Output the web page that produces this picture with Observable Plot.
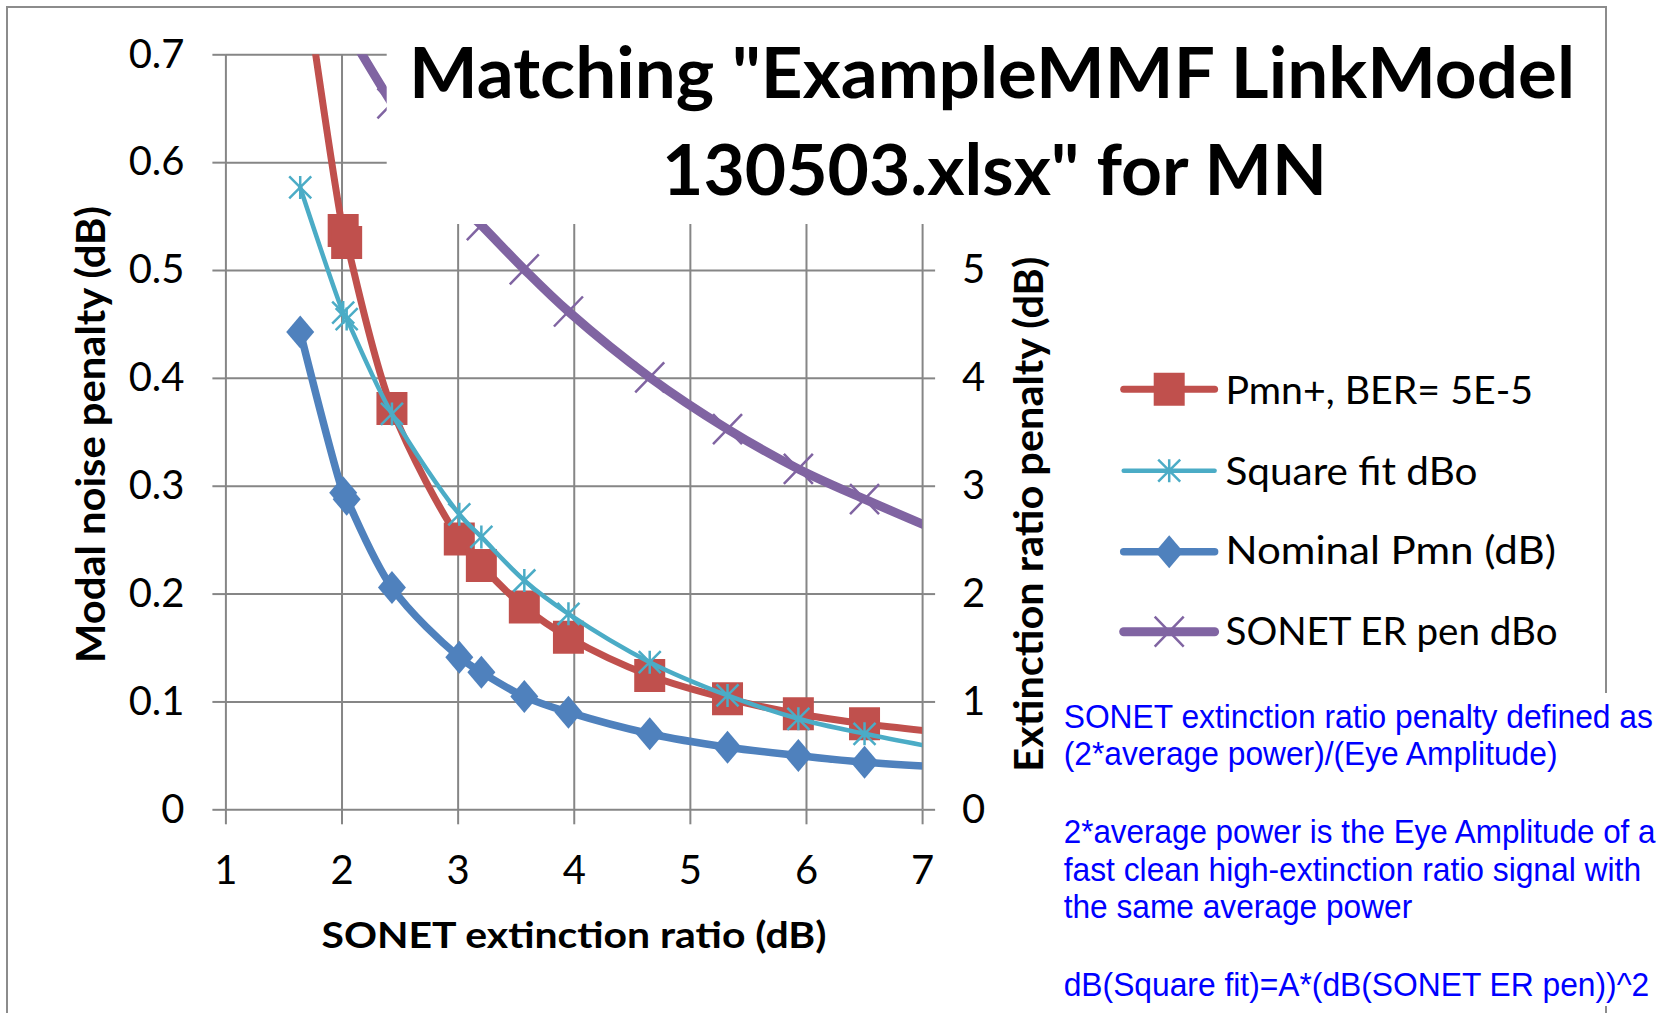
<!DOCTYPE html>
<html>
<head>
<meta charset="utf-8">
<script src="https://cdn.jsdelivr.net/npm/d3@7"></script>
<script src="https://cdn.jsdelivr.net/npm/@observablehq/plot@0.6"></script>
<style>
html, body { margin: 0; padding: 0; background: #fff; }
#wrap { position: relative; width: 1671px; height: 1013px; overflow: hidden; background: #fff; }
#wrap > svg { position: absolute; left: 0; top: 0; }
</style>
</head>
<body>
<div id="wrap"></div>
<script>
// ---- data ----
const erDb        = [1.64, 2.01, 2.04, 2.43, 3.01, 3.20, 3.57, 3.95, 4.65, 5.32, 5.93, 6.50, 7.50];
const pmnPlus     = [0.800, 0.537, 0.526, 0.372, 0.251, 0.2265, 0.188, 0.160, 0.1245, 0.103, 0.089, 0.0797, 0.068];
const squareFit   = [0.577, 0.461, 0.455, 0.367, 0.274, 0.253, 0.2126, 0.1817, 0.1369, 0.106, 0.0844, 0.0705, 0.050];
const nominalPmn  = [0.443, 0.294, 0.288, 0.206, 0.1415, 0.1276, 0.105, 0.0905, 0.0705, 0.058, 0.0503, 0.0441, 0.038];
const sonetErPen  = [8.15, 7.29, 7.24, 6.55, 5.62, 5.42, 5.01, 4.62, 4.01, 3.53, 3.16, 2.88, 2.42];

const xTicks = [1, 2, 3, 4, 5, 6, 7];
const yTicks = [0, 0.1, 0.2, 0.3, 0.4, 0.5, 0.6, 0.7];
const rightTicks = [0, 1, 2, 3, 4, 5];

const seriesNames = ["Pmn+, BER= 5E-5", "Square fit dBo", "Nominal Pmn (dB)", "SONET ER pen dBo"];
const seriesColors = ["#C0504D", "#4BACC6", "#4F81BD", "#8064A2"];

const titleLines = ["Matching \"ExampleMMF LinkModel", "130503.xlsx\" for MN"];
const xTitle = "SONET extinction ratio (dB)";
const yTitle = "Modal noise penalty (dB)";
const y2Title = "Extinction ratio penalty (dB)";
const noteLines = [
  "SONET extinction ratio penalty defined as",
  "(2*average power)/(Eye Amplitude)",
  "2*average power is the Eye Amplitude of a",
  "fast clean high-extinction ratio signal with",
  "the same average power",
  "dB(Square fit)=A*(dB(SONET ER pen))^2"
];

// table built from the arrays; right-axis series mapped onto the left scale (÷10)
const rows = erDb.map((x, i) => ({x, pmn: pmnPlus[i], fit: squareFit[i], nom: nominalPmn[i], er: sonetErPen[i] / 10}));

// ---- marker symbols ----
const squareSym  = {draw(c) { c.moveTo(-15.5, -16.5); c.lineTo(15.5, -16.5); c.lineTo(15.5, 16.5); c.lineTo(-15.5, 16.5); c.closePath(); }};
const diamondSym = {draw(c) { c.moveTo(0, -16.5); c.lineTo(14, 0); c.lineTo(0, 16.5); c.lineTo(-14, 0); c.closePath(); }};
const starSym    = {draw(c) { c.moveTo(0, -11.5); c.lineTo(0, 11.5); c.moveTo(-11, -11); c.lineTo(11, 11); c.moveTo(-11, 11); c.lineTo(11, -11); }};
const crossSym   = {draw(c) { c.moveTo(-14.5, -15); c.lineTo(14.5, 15); c.moveTo(-14.5, 15); c.lineTo(14.5, -15); }};

const W = 1671, H = 1013;
const fL = 225.4, fR = 922.1, fT = 54.3, fB = 809.3;
const gridColor = "#868686";
const lw = [7, 4.5, 7.5, 9];

const plot = Plot.plot({
  width: W, height: H,
  marginLeft: fL, marginRight: W - fR, marginTop: fT, marginBottom: H - fB,
  style: {background: "transparent", fontFamily: "Lato, 'Open Sans', sans-serif", fontSize: "40px", color: "#000", overflow: "visible"},
  x: {domain: [1, 7]},
  y: {domain: [0, 0.7]},
  marks: [
    Plot.gridX(xTicks, {stroke: gridColor, strokeOpacity: 1, strokeWidth: 2}),
    Plot.gridY(yTicks, {stroke: gridColor, strokeOpacity: 1, strokeWidth: 2}),
    Plot.axisX({ticks: xTicks, tickSize: 15, tickPadding: 30.6, stroke: gridColor, strokeWidth: 2, label: null, tickFormat: d => String(d)}),
    Plot.axisY({ticks: yTicks, tickSize: 13, tickPadding: 28.4, stroke: gridColor, strokeWidth: 2, label: null, tickFormat: d => String(d)}),
    Plot.axisY({anchor: "right", ticks: rightTicks.map(v => v / 10), tickSize: 12, tickPadding: 27.4, stroke: gridColor, strokeWidth: 2, label: null, tickFormat: d => String(Math.round(d * 10))}),
    // red
    Plot.line(rows, {x: "x", y: "pmn", stroke: seriesColors[0], strokeWidth: lw[0], curve: "catmull-rom", clip: true}),
    Plot.dot(rows, {x: "x", y: "pmn", symbol: squareSym, fill: seriesColors[0], stroke: "none", clip: true}),
    // cyan
    Plot.line(rows, {x: "x", y: "fit", stroke: seriesColors[1], strokeWidth: lw[1], curve: "catmull-rom", clip: true}),
    Plot.dot(rows, {x: "x", y: "fit", symbol: starSym, fill: "none", stroke: seriesColors[1], strokeWidth: 2.5, clip: true}),
    // blue
    Plot.line(rows, {x: "x", y: "nom", stroke: seriesColors[2], strokeWidth: lw[2], curve: "catmull-rom", clip: true}),
    Plot.dot(rows, {x: "x", y: "nom", symbol: diamondSym, fill: seriesColors[2], stroke: "none", clip: true}),
    // purple (right axis)
    Plot.line(rows, {x: "x", y: "er", stroke: seriesColors[3], strokeWidth: lw[3], curve: "catmull-rom", clip: true}),
    Plot.dot(rows, {x: "x", y: "er", symbol: crossSym, fill: "none", stroke: seriesColors[3], strokeWidth: 2.5, clip: true})
  ]
});

const wrap = document.getElementById("wrap");
const NS = "http://www.w3.org/2000/svg";
function el(tag, attrs, parent) {
  const e = document.createElementNS(NS, tag);
  for (const k in attrs) e.setAttribute(k, attrs[k]);
  if (parent) parent.appendChild(e);
  return e;
}
function txt(parent, str, attrs) { const t = el("text", attrs, parent); t.textContent = str; return t; }

// background layer (outer chart border)
const under = el("svg", {width: W, height: H});
el("rect", {x: 7, y: 7, width: 1599, height: 1200, fill: "none", stroke: "#8c8c8c", "stroke-width": 2}, under);
wrap.appendChild(under);
wrap.appendChild(plot);

// overlay layer
const over = el("svg", {width: W, height: H});
wrap.appendChild(over);

// title box (covers the top of the plot area)
el("rect", {x: 386.7, y: 9, width: 1212, height: 215, fill: "#fff"}, over);
const bold = "Lato, 'Open Sans', sans-serif";
txt(over, titleLines[0], {x: 992, y: 98.3, "text-anchor": "middle", "font-family": bold, "font-weight": 700, "font-size": 70, textLength: 1166, lengthAdjust: "spacingAndGlyphs"});
txt(over, titleLines[1], {x: 994.5, y: 195, "text-anchor": "middle", "font-family": bold, "font-weight": 700, "font-size": 70, textLength: 665, lengthAdjust: "spacingAndGlyphs"});

// axis titles
txt(over, xTitle, {x: 574, y: 948, "text-anchor": "middle", "font-family": bold, "font-weight": 700, "font-size": 36, textLength: 505, lengthAdjust: "spacingAndGlyphs"});
txt(over, yTitle, {transform: "translate(104.6,434.5) rotate(-90)", "text-anchor": "middle", "font-family": bold, "font-weight": 700, "font-size": 40, textLength: 457, lengthAdjust: "spacingAndGlyphs"});
txt(over, y2Title, {transform: "translate(1042.6,514.2) rotate(-90)", "text-anchor": "middle", "font-family": bold, "font-weight": 700, "font-size": 41, textLength: 515, lengthAdjust: "spacingAndGlyphs"});

// legend
const legSyms = [squareSym, starSym, diamondSym, crossSym];
const legLineY = [389.3, 470.7, 551.7, 631.7];
const legBase = [404, 485, 564.3, 645];
const legW = [307.5, 252, 330.5, 332];
seriesNames.forEach((name, i) => {
  el("line", {x1: 1123.7, x2: 1214.6, y1: legLineY[i], y2: legLineY[i], stroke: seriesColors[i], "stroke-width": lw[i], "stroke-linecap": "round"}, over);
  const p = d3.path();
  legSyms[i].draw(p);
  const filled = (i === 0 || i === 2);
  el("path", {d: p.toString(), transform: `translate(1169.2,${legLineY[i]})`, fill: filled ? seriesColors[i] : "none", stroke: filled ? "none" : seriesColors[i], "stroke-width": 2.5}, over);
  txt(over, name, {x: 1225.5, y: legBase[i], "font-family": "Lato, 'Open Sans', sans-serif", "font-size": 38, fill: "#000", textLength: legW[i], lengthAdjust: "spacingAndGlyphs"});
});

// note box (text squeezed horizontally by a transform so that its box matches the reference)
el("rect", {x: 1058, y: 693, width: 613, height: 313, fill: "#fff"}, over);
const noteBase = [728.3, 764.5, 842.7, 880.5, 918.3, 996];
const noteW = [589.5, 494, 592, 577.7, 348.6, 586];
noteLines.forEach((s, i) => {
  const g = el("g", {}, over);
  const t = txt(g, s, {x: 0, y: 0, "font-family": "'Liberation Sans', Arial, sans-serif", "font-size": 32.5, fill: "#0000ff"});
  const natural = t.getComputedTextLength() || noteW[i];
  g.setAttribute("transform", `translate(1063.7,${noteBase[i]}) scale(${noteW[i] / natural},1)`);
});
</script>
</body>
</html>
